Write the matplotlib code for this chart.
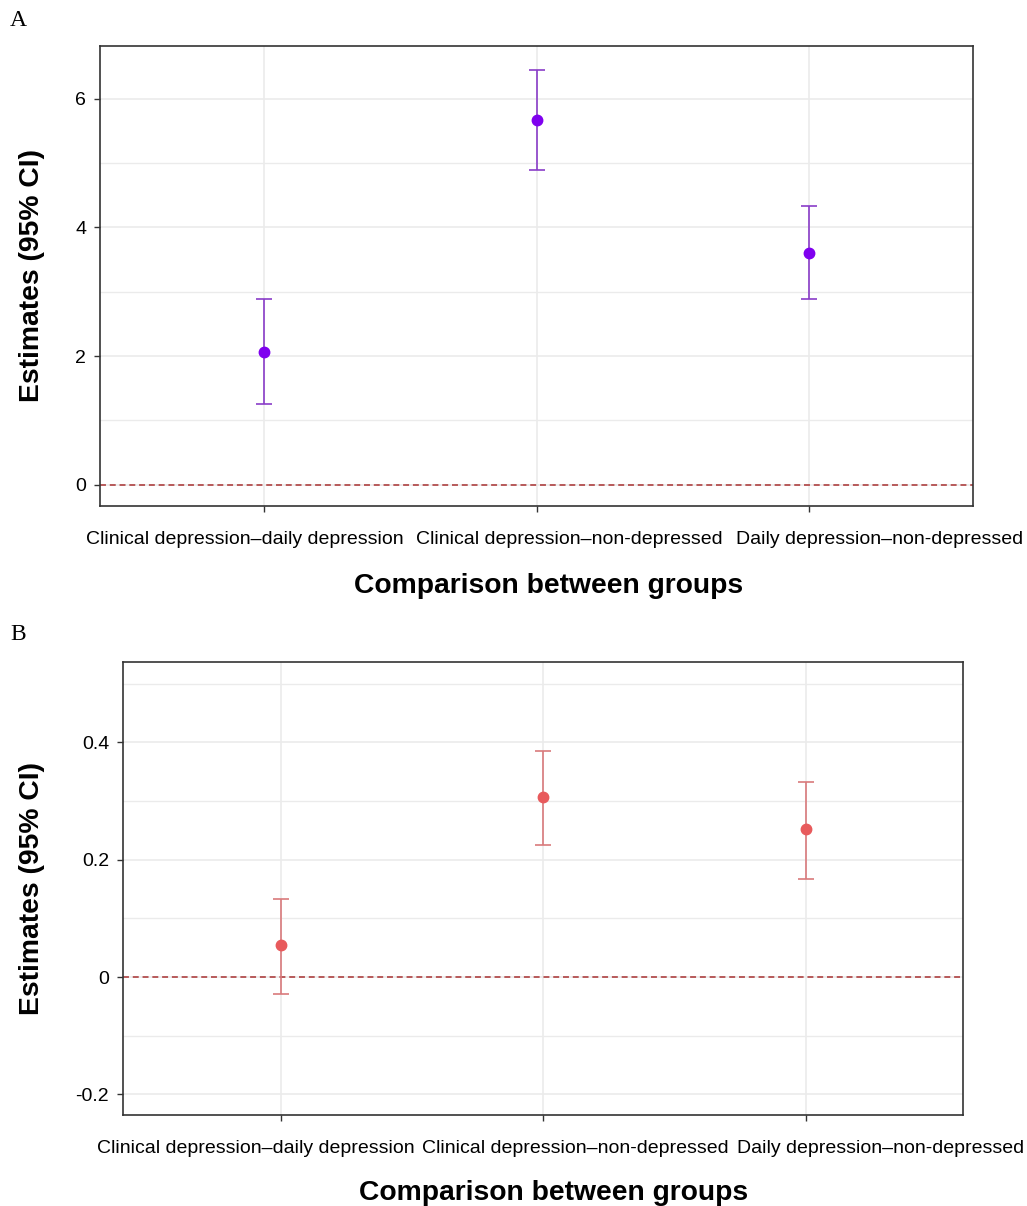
import matplotlib
matplotlib.use("Agg")
import matplotlib.pyplot as plt
from matplotlib.transforms import ScaledTranslation

plt.rcParams['font.family'] = ['Liberation Sans', 'DejaVu Sans']

# Data
comparisons = ["Clinical depression\u2013daily depression",
               "Clinical depression\u2013non-depressed",
               "Daily depression\u2013non-depressed"]

est_a = [2.07, 5.67, 3.61]
lo_a = [1.26, 4.90, 2.89]
hi_a = [2.89, 6.45, 4.34]

est_b = [0.055, 0.307, 0.252]
lo_b = [-0.029, 0.225, 0.167]
hi_b = [0.133, 0.385, 0.332]

W, H = 1027, 1206
fig = plt.figure(figsize=(W / 100, H / 100), dpi=100)


def px_axes(left, top, right, bottom):
    return fig.add_axes([left / W, 1 - bottom / H, (right - left) / W, (bottom - top) / H])


def draw_panel(ax, est, lo, hi, pt_color, bar_color, ylim, major, minor,
               ticklabels, label_shift, ylab_x, xlab_y, xlab_x):
    x = [1, 2, 3]
    ax.set_xlim(0.4, 3.6)
    ax.set_ylim(*ylim)
    ax.set_yticks(major)
    ax.set_yticks(minor, minor=True)
    ax.set_yticklabels(ticklabels)
    ax.set_xticks(x)
    ax.set_xticklabels(comparisons)
    ax.grid(True, which="major", color="#ebebeb", lw=1.2, zorder=0)
    ax.grid(True, which="minor", axis="y", color="#ebebeb", lw=1.0, zorder=0)
    ax.set_axisbelow(True)
    for s in ax.spines.values():
        s.set_color("#333333")
        s.set_linewidth(1.2)
    ax.tick_params(axis="both", which="major", length=4, width=1.0, color="#333333",
                   labelsize=14, labelcolor="black")
    ax.tick_params(axis="y", which="minor", length=0)
    ax.tick_params(axis="x", pad=14)
    ax.tick_params(axis="y", pad=6)

    ax.axhline(0, color="#a83232", lw=1.1, dashes=(3.9, 2.5), zorder=2)
    yerr = [[e - l for e, l in zip(est, lo)], [h - e for e, h in zip(est, hi)]]
    ax.errorbar(x, est, yerr=yerr, fmt="none", ecolor=bar_color, elinewidth=1.2,
                capsize=5.5, capthick=1.2, zorder=3)
    ax.plot(x, est, "o", color=pt_color, ms=7.5, zorder=4)

    for lab, dx in zip(ax.get_xticklabels(), label_shift):
        lab.set_transform(lab.get_transform() + ScaledTranslation(dx / 100, 0, fig.dpi_scale_trans))

    ax.set_ylabel("Estimates (95% CI)", fontsize=20.3, fontweight="bold")
    ax.yaxis.set_label_coords(ylab_x, 0.5)
    ax.set_xlabel("Comparison between groups", fontsize=20.3, fontweight="bold", va="center")
    ax.xaxis.set_label_coords(xlab_x, xlab_y)


ax_a = px_axes(100, 46, 973, 506)
draw_panel(ax_a, est_a, lo_a, hi_a, "#7f00ef", "#8a3dc8",
           (-0.33, 6.82), [0, 2, 4, 6], [1, 3, 5], ["0", "2", "4", "6"],
           [-19, 33, 70], (45 - 100) / 873, (506 - 586) / 460, (549 - 100) / 873)

ax_b = px_axes(123, 662, 963, 1115)
draw_panel(ax_b, est_b, lo_b, hi_b, "#e85a5c", "#d97a7c",
           (-0.235, 0.537), [-0.2, 0, 0.2, 0.4], [-0.1, 0.1, 0.3, 0.5],
           ["-0.2", "0", "0.2", "0.4"],
           [-25, 32, 75], (45 - 123) / 840, (1115 - 1193) / 453, (554 - 123) / 840)

fig.text(10 / W, 1 - 20 / H, "A", family="Liberation Serif", fontsize=17, va="center", ha="left")
fig.text(10 / W, 1 - 635 / H, "B", family="Liberation Serif", fontsize=17, va="center", ha="left")

fig.savefig("out.png", dpi=100)
